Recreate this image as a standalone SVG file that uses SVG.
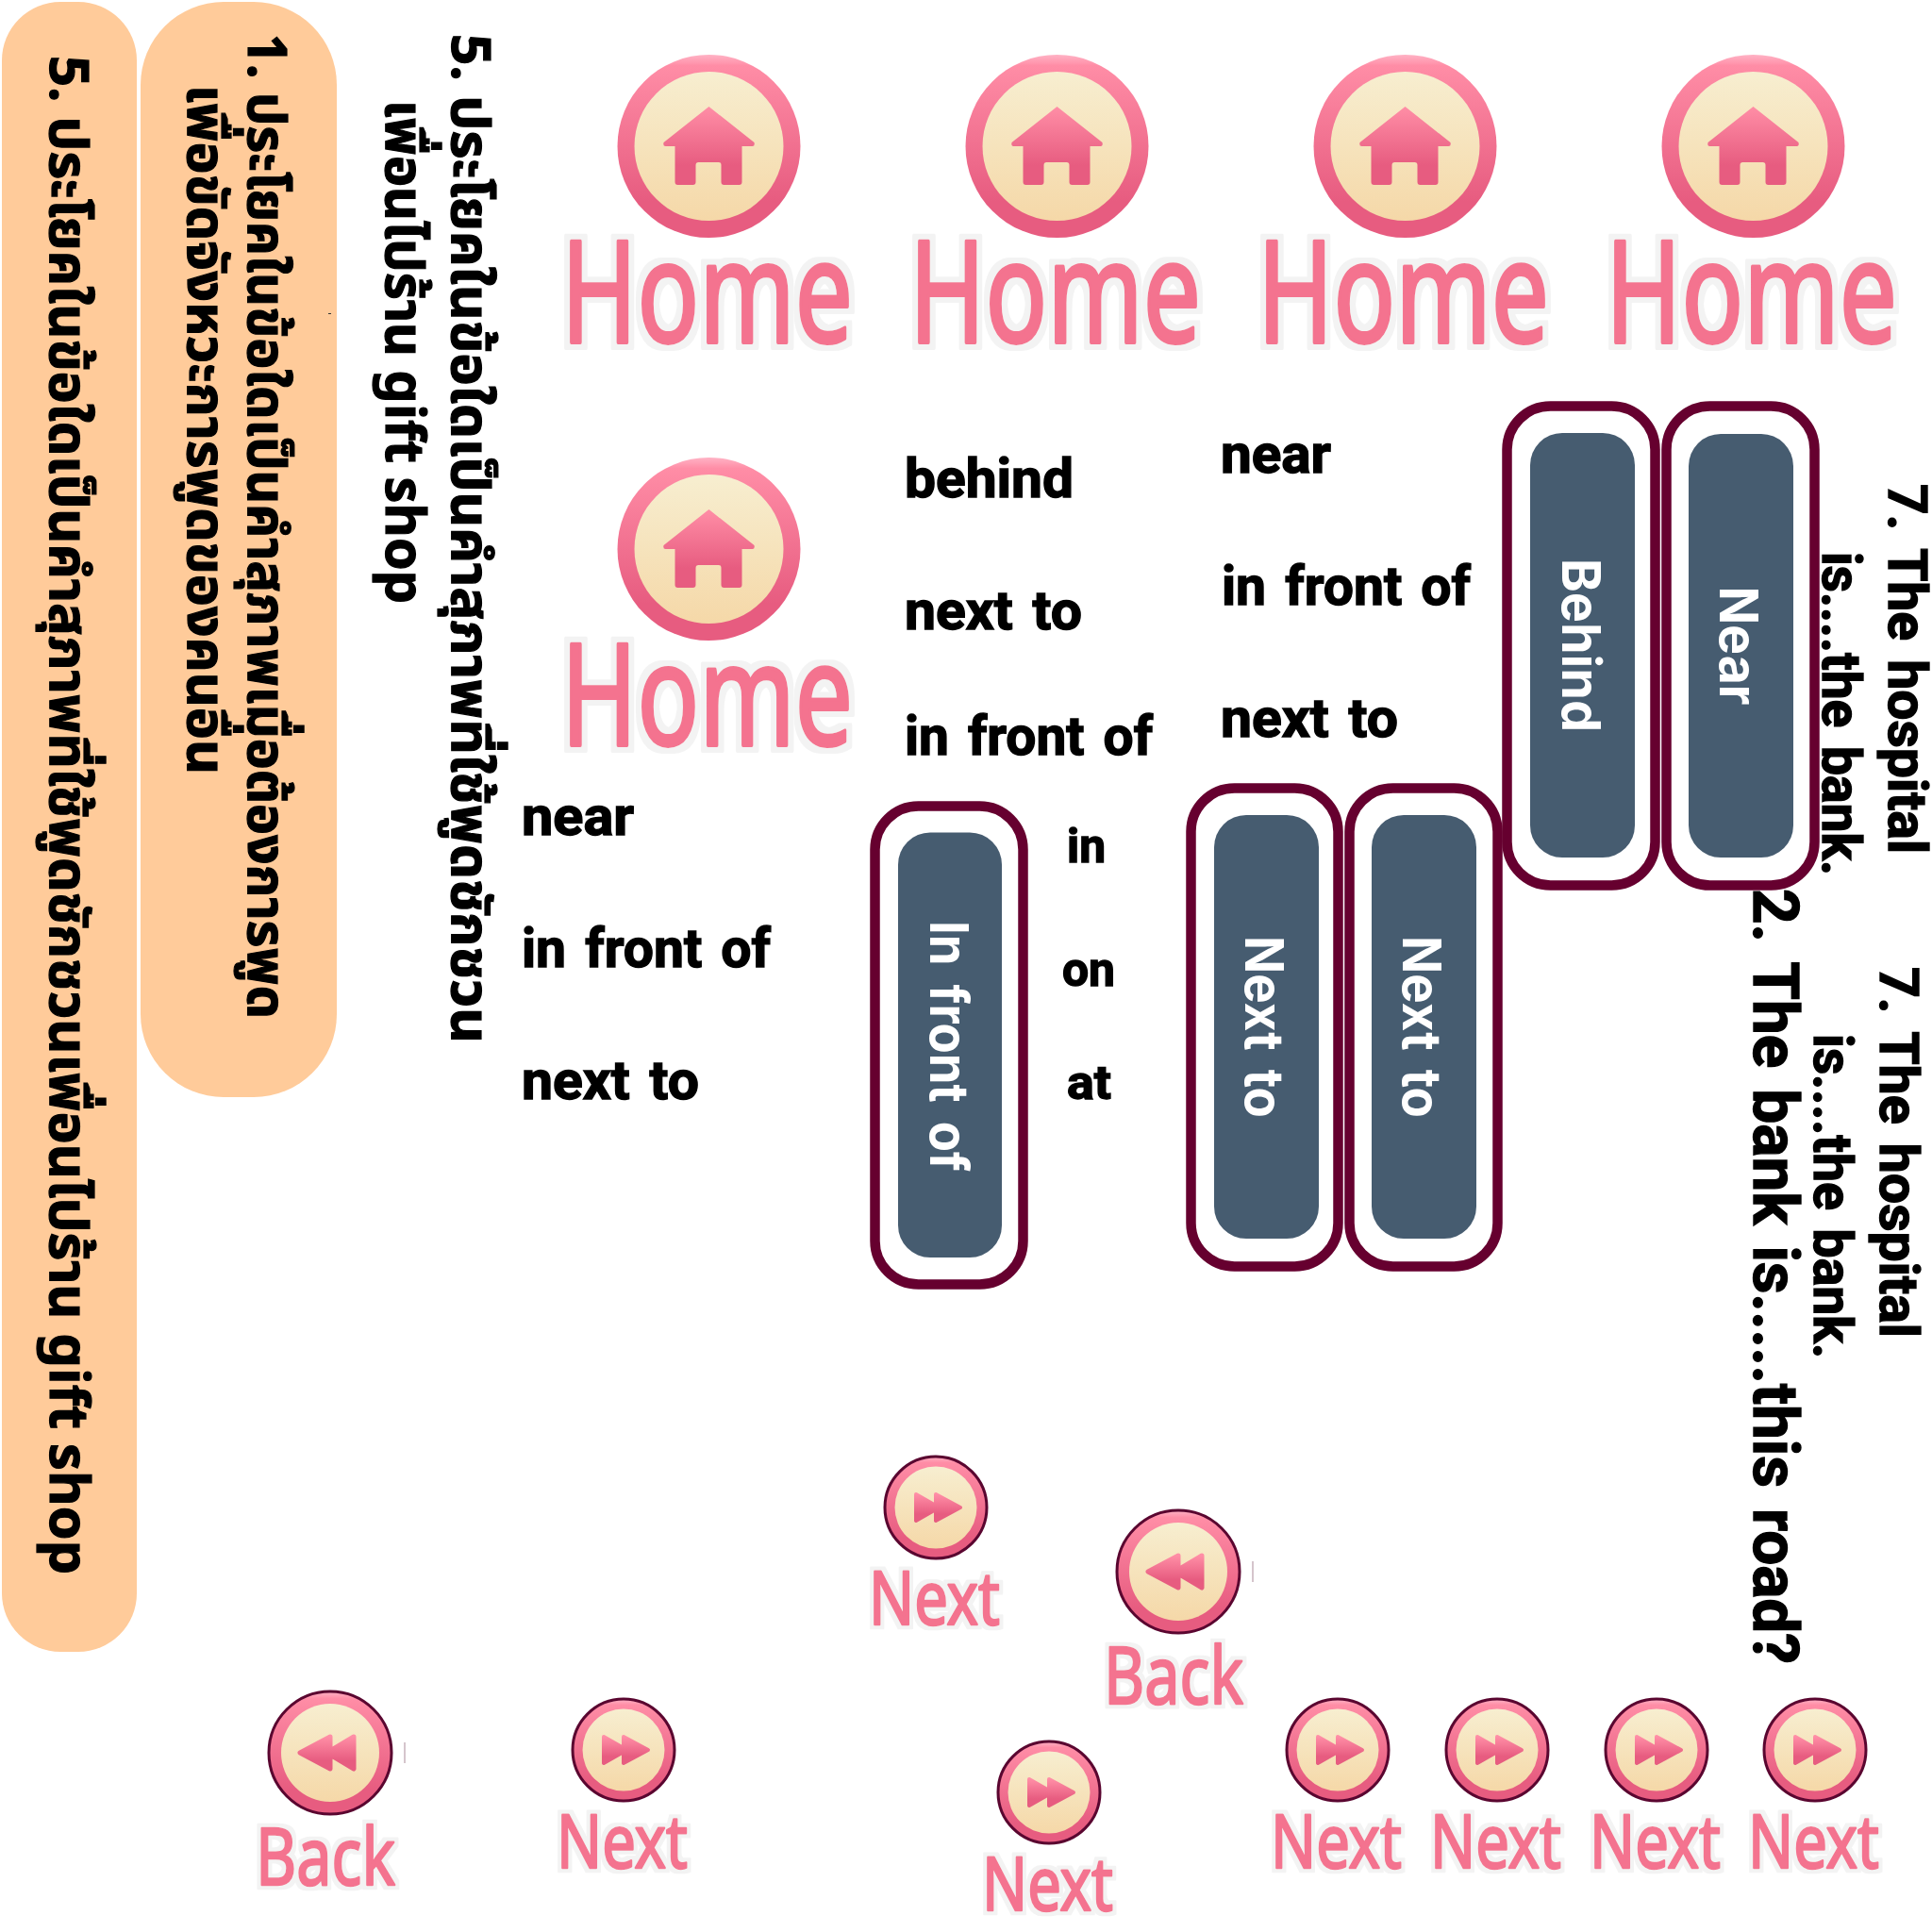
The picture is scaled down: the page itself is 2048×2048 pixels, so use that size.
<svg xmlns="http://www.w3.org/2000/svg" xmlns:xlink="http://www.w3.org/1999/xlink" width="2048" height="2048" viewBox="0 0 2048 2048">
<style>
text{font-family:"Noto Sans","Liberation Sans",sans-serif;font-weight:700;fill:#000}
.b{font-family:"Roboto","Liberation Sans",sans-serif;font-size:57px;stroke:#000;stroke-width:1.4px;word-spacing:6px}
.t{font-family:"Noto Sans Thai","Noto Sans","Liberation Sans",sans-serif;font-size:57px;stroke:#000;stroke-width:1.2px}
.w{font-family:"Inter","Liberation Sans",sans-serif;font-size:56px;fill:#fff;font-weight:700;word-spacing:8px}
.pill{fill:#ffcb9a}
.out{fill:#fff;stroke:#66002f;stroke-width:10.500}
.in{fill:#465c70}
.lab{font-family:"Noto Sans","Liberation Sans",sans-serif;font-weight:400;fill:#f4738f;stroke:#f4738f;stroke-linejoin:round}
.home{font-size:150px;stroke-width:4px;filter:url(#h1)}
.nx{font-size:78px;stroke-width:2.500px;filter:url(#h2)}
.bk{font-size:84px;stroke-width:2.500px;filter:url(#h2)}
</style>
<defs>
<linearGradient id="ring" x1="0" y1="0" x2="0" y2="1"><stop offset="0" stop-color="#ffb3c5"/><stop offset=".06" stop-color="#ff8da6"/><stop offset=".8" stop-color="#e75c80"/></linearGradient>
<linearGradient id="glyph" x1="0" y1="0" x2="0" y2="1"><stop offset="0" stop-color="#ff8ea6"/><stop offset=".75" stop-color="#e75c80"/></linearGradient>
<linearGradient id="cream" x1="0" y1="0" x2="0" y2="1"><stop offset="0" stop-color="#f7eed0"/><stop offset="1" stop-color="#f5d8a8"/></linearGradient>
<filter id="h1" x="-10%" y="-15%" width="120%" height="130%"><feMorphology in="SourceAlpha" operator="dilate" radius="6" result="d"/><feFlood flood-color="#f3f3f3"/><feComposite in2="d" operator="in"/><feMerge><feMergeNode/><feMergeNode in="SourceGraphic"/></feMerge></filter>
<filter id="h2" x="-10%" y="-15%" width="120%" height="130%"><feMorphology in="SourceAlpha" operator="dilate" radius="4" result="d"/><feFlood flood-color="#f3f3f3"/><feComposite in2="d" operator="in"/><feMerge><feMergeNode/><feMergeNode in="SourceGraphic"/></feMerge></filter>
<g id="homeIcon">
<circle r="97" fill="url(#ring)"/><circle r="79" fill="url(#cream)"/>
<path d="M0-42L48-4Q49 0 46 0H35V38Q35 41 32 41H16Q13 41 13 38V20Q13 17 10 17H-11Q-14 17 -14 20V38Q-14 41 -17 41H-33Q-36 41 -36 38V0H-46Q-49 0 -48-4Z" fill="url(#glyph)"/>
</g>
<g id="nextIcon">
<circle r="54" fill="url(#ring)" stroke="#5a0630" stroke-width="3"/><circle r="43.500" fill="url(#cream)"/>
<path d="M-21-14L0-2V-14L26 0L0 14V2L-21 14Z" fill="url(#glyph)" stroke="url(#glyph)" stroke-width="4" stroke-linejoin="round"/>
</g>
<g id="backIcon">
<circle r="65" fill="url(#ring)" stroke="#5a0630" stroke-width="3"/><circle r="52" fill="url(#cream)"/>
<path d="M25-17L0-2V-17L-32 0L0 17V2L25 17Z" fill="url(#glyph)" stroke="url(#glyph)" stroke-width="5" stroke-linejoin="round"/>
</g>
</defs>
<rect width="2048" height="2048" fill="#fff"/>

<g id="pill-1"><rect class="pill" x="2" y="2" width="143" height="1749" rx="62" ry="62"/>
<text class="t" lang="th" xml:lang="th" transform="translate(52.500,59) rotate(90)" textLength="1610" lengthAdjust="spacingAndGlyphs">5. ประโยคในข้อใดเป็นคำสุภาพที่ใช้พูดชักชวนเพื่อนไปร้าน gift shop</text></g>
<g id="pill-2"><rect class="pill" x="149" y="2" width="208" height="1161" rx="88" ry="88"/>
<text class="t" lang="th" xml:lang="th" transform="translate(262.500,36) rotate(90)" textLength="1044" lengthAdjust="spacingAndGlyphs">1. ประโยคในข้อใดเป็นคำสุภาพเมื่อต้องการพูด</text>
<text class="t" lang="th" xml:lang="th" transform="translate(199,90) rotate(90)" textLength="731" lengthAdjust="spacingAndGlyphs">เพื่อขัดจังหวะการพูดของคนอื่น</text>
<rect x="348" y="332" width="3" height="1" fill="#333"/></g>
<g id="question-5"><text class="t" lang="th" xml:lang="th" transform="translate(478.500,36) rotate(90)" textLength="1070" lengthAdjust="spacingAndGlyphs">5. ประโยคในข้อใดเป็นคำสุภาพที่ใช้พูดชักชวน</text>
<text class="t" lang="th" xml:lang="th" transform="translate(409,106) rotate(90)" textLength="534" lengthAdjust="spacingAndGlyphs">เพื่อนไปร้าน gift shop</text></g>

<g id="home-1"><use xlink:href="#homeIcon" href="#homeIcon" x="751.500" y="155"/><text class="lab home" x="595" y="363" textLength="309" lengthAdjust="spacingAndGlyphs">Home</text></g>
<g id="home-2"><use xlink:href="#homeIcon" href="#homeIcon" x="1120.500" y="155"/><text class="lab home" x="964" y="363" textLength="309" lengthAdjust="spacingAndGlyphs">Home</text></g>
<g id="home-3"><use xlink:href="#homeIcon" href="#homeIcon" x="1489.500" y="155"/><text class="lab home" x="1333" y="363" textLength="309" lengthAdjust="spacingAndGlyphs">Home</text></g>
<g id="home-4"><use xlink:href="#homeIcon" href="#homeIcon" x="1858.500" y="155"/><text class="lab home" x="1702" y="363" textLength="309" lengthAdjust="spacingAndGlyphs">Home</text></g>
<g id="home-5"><use xlink:href="#homeIcon" href="#homeIcon" x="751.500" y="582"/><text class="lab home" x="595" y="790" textLength="309" lengthAdjust="spacingAndGlyphs">Home</text></g>

<g id="word-behind"><text class="b" x="959" y="527" textLength="179" lengthAdjust="spacingAndGlyphs">behind</text></g>
<g id="word-next-to-a"><text class="b" x="959" y="667" textLength="188" lengthAdjust="spacingAndGlyphs">next to</text></g>
<g id="word-in-front-of-a"><text class="b" x="959" y="800" textLength="263" lengthAdjust="spacingAndGlyphs">in front of</text></g>
<g id="word-near-a"><text class="b" x="1294" y="501" textLength="117" lengthAdjust="spacingAndGlyphs">near</text></g>
<g id="word-in-front-of-b"><text class="b" x="1295" y="641" textLength="264" lengthAdjust="spacingAndGlyphs">in front of</text></g>
<g id="word-next-to-b"><text class="b" x="1294" y="781" textLength="188" lengthAdjust="spacingAndGlyphs">next to</text></g>
<g id="word-near-c"><text class="b" x="553" y="885" textLength="119" lengthAdjust="spacingAndGlyphs">near</text></g>
<g id="word-in-front-of-c"><text class="b" x="553" y="1025" textLength="264" lengthAdjust="spacingAndGlyphs">in front of</text></g>
<g id="word-next-to-c"><text class="b" x="553" y="1165" textLength="188" lengthAdjust="spacingAndGlyphs">next to</text></g>
<g id="word-in"><text class="b" x="1131" y="914" textLength="41" lengthAdjust="spacingAndGlyphs" style="font-size:50px">in</text></g>
<g id="word-on"><text class="b" x="1126" y="1045" textLength="56" lengthAdjust="spacingAndGlyphs" style="font-size:50px">on</text></g>
<g id="word-at"><text class="b" x="1131" y="1165" textLength="47" lengthAdjust="spacingAndGlyphs" style="font-size:50px">at</text></g>

<g id="btn-behind"><rect class="out" x="1597.500" y="430.500" width="157" height="508" rx="46"/><rect class="in" x="1622" y="459" width="111" height="450" rx="34"/>
<text class="w" transform="translate(1656,592) rotate(90)" textLength="184" lengthAdjust="spacingAndGlyphs">Behind</text></g>
<g id="btn-near"><rect class="out" x="1766.500" y="430.500" width="157" height="508" rx="46"/><rect class="in" x="1790" y="460" width="111" height="449" rx="34"/>
<text class="w" transform="translate(1823,621.500) rotate(90)" textLength="126" lengthAdjust="spacingAndGlyphs">Near</text></g>
<g id="btn-next-1"><rect class="out" x="1262.500" y="835.500" width="156" height="507" rx="46"/><rect class="in" x="1287" y="864" width="111" height="449" rx="34"/>
<text class="w" transform="translate(1320,992) rotate(90)" textLength="193" lengthAdjust="spacingAndGlyphs">Next to</text></g>
<g id="btn-next-2"><rect class="out" x="1430.500" y="835.500" width="157" height="507" rx="46"/><rect class="in" x="1454" y="864" width="111" height="449" rx="34"/>
<text class="w" transform="translate(1487,992) rotate(90)" textLength="193" lengthAdjust="spacingAndGlyphs">Next to</text></g>
<g id="btn-front"><rect class="out" x="927.500" y="854.500" width="157" height="507" rx="46"/><rect class="in" x="952" y="882.500" width="110" height="450.500" rx="34"/>
<text class="w" transform="translate(986,976) rotate(90)" textLength="266" lengthAdjust="spacingAndGlyphs">In front of</text></g>

<g id="q7-a"><text class="b" transform="translate(2002,513) rotate(90)" textLength="392" lengthAdjust="spacingAndGlyphs">7. The hospital</text>
<text class="b" transform="translate(1932,585) rotate(90)" textLength="343" lengthAdjust="spacingAndGlyphs">is....the bank.</text></g>
<g id="q7-b"><text class="b" transform="translate(1993,1025) rotate(90)" textLength="393" lengthAdjust="spacingAndGlyphs">7. The hospital</text>
<text class="b" transform="translate(1923,1096) rotate(90)" textLength="344" lengthAdjust="spacingAndGlyphs">is....the bank.</text></g>
<g id="q2"><text class="b" transform="translate(1859,942) rotate(90)" textLength="822" lengthAdjust="spacingAndGlyphs" style="font-size:67px">2. The bank is.....this road?</text></g>

<g id="next-1"><use xlink:href="#nextIcon" href="#nextIcon" x="992" y="1598"/><text class="lab nx" x="921" y="1722" textLength="139" lengthAdjust="spacingAndGlyphs">Next</text></g>
<g id="back-1"><use xlink:href="#backIcon" href="#backIcon" x="1249" y="1666"/><text class="lab bk" x="1170" y="1806" textLength="148" lengthAdjust="spacingAndGlyphs">Back</text><rect x="1327" y="1655" width="2" height="22" fill="#d5c5cc"/></g>
<g id="next-2"><use xlink:href="#nextIcon" href="#nextIcon" x="1112" y="1900"/><text class="lab nx" x="1041" y="2025" textLength="139" lengthAdjust="spacingAndGlyphs">Next</text></g>
<g id="back-2"><use xlink:href="#backIcon" href="#backIcon" x="350" y="1858"/><text class="lab bk" x="271" y="1998" textLength="148" lengthAdjust="spacingAndGlyphs">Back</text><rect x="428" y="1847" width="2" height="22" fill="#d5c5cc"/></g>
<g id="next-3"><use xlink:href="#nextIcon" href="#nextIcon" x="661" y="1855"/><text class="lab nx" x="590" y="1980" textLength="139" lengthAdjust="spacingAndGlyphs">Next</text></g>
<g id="next-4"><use xlink:href="#nextIcon" href="#nextIcon" x="1418" y="1855"/><text class="lab nx" x="1347" y="1980" textLength="139" lengthAdjust="spacingAndGlyphs">Next</text></g>
<g id="next-5"><use xlink:href="#nextIcon" href="#nextIcon" x="1587" y="1855"/><text class="lab nx" x="1516" y="1980" textLength="139" lengthAdjust="spacingAndGlyphs">Next</text></g>
<g id="next-6"><use xlink:href="#nextIcon" href="#nextIcon" x="1756" y="1855"/><text class="lab nx" x="1685" y="1980" textLength="139" lengthAdjust="spacingAndGlyphs">Next</text></g>
<g id="next-7"><use xlink:href="#nextIcon" href="#nextIcon" x="1924" y="1855"/><text class="lab nx" x="1853" y="1980" textLength="139" lengthAdjust="spacingAndGlyphs">Next</text></g>
</svg>
